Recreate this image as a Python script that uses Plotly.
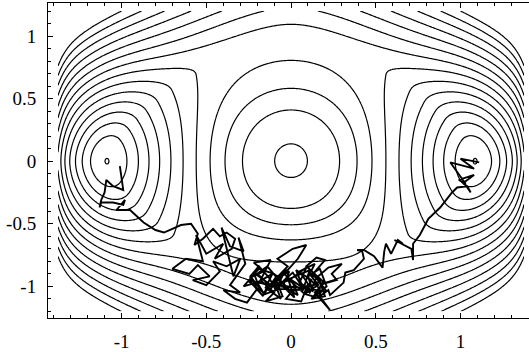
import numpy as np
import plotly.graph_objects as go

# ---- potential field (drawn as contour lines); s,t are pixel-isotropic coordinates ----
SX, SY = 169.5 / 185.0, 129.0 / 185.0
BASE = 8.5
HILL_H, HILL_R, HILL_P = 3.62, 0.43, 2.5
WELL_H, WELL_A, WELL_G, WELL_Q, WELL_S = 7.55, 0.12, 0.5, 0.85, 1.0
CHAN_H, CHAN_T, CHAN_AT, CHAN_AS = 1.0, -0.56, 0.05, 0.25
RING_TS, RING_M, RING_K, RING_W, RING_ES, RING_ET = 0.71, 1.4, 4.0, 0.25, 0.15, 0.06
SIDE_A, SIDE_K, EDGE_S = 1.7, 20.0, 1.26
X_MIN, X_MAX, Y_MIN, Y_MAX = -1.375, 1.375, -1.2, 1.2
LEVEL_START, LEVEL_END, LEVEL_STEP = 1.0, 15.0, 1.0

# ---- trajectory ----
traj_x = [-1.01, -0.99, -1.05, -1.09, -1.10, -1.12, -1.13, -1.12, -1.05, -0.99, -0.98, -1.03, -0.95,
          -0.87, -0.80, -0.75, -0.70, -0.65, -0.59, -0.55, -0.57, -0.52, -0.46, -0.42, -0.38, -0.33,
          -0.35, -0.45, -0.40, -0.50, -0.56, -0.52, -0.62, -0.70, -0.60, -0.55, -0.48, -0.58, -0.50,
          -0.42, -0.46, -0.38, -0.30, -0.34, -0.41, -0.36, -0.28, -0.31, -0.27, -0.36, -0.30, -0.40,
          -0.33, -0.26, -0.20, -0.24, -0.16, -0.22, -0.12, -0.18, -0.10, -0.15, -0.05, -0.09, -0.02,
          -0.08, 0.01, 0.09, 0.04, -0.04, 0.03, -0.03, 0.06, 0.10, 0.05, 0.14, 0.10, 0.17, 0.12, 0.20,
          0.16, 0.22, 0.30, 0.24, 0.27, 0.19, 0.14, 0.23, 0.18, 0.08, -0.01, -0.12, -0.20, -0.14, -0.06,
          0.02, 0.11, 0.07, -0.07, -0.17, -0.23, -0.28, -0.19, -0.10, 0.00, 0.12, 0.18, 0.09, 0.15,
          0.20, 0.13, 0.21, 0.23, 0.31, 0.32, 0.37, 0.43, 0.42, 0.39, 0.43, 0.49, 0.54, 0.55, 0.56,
          0.59, 0.63, 0.66, 0.61, 0.71, 0.72, 0.72, 0.76, 0.81, 0.88, 0.95, 0.98, 1.04, 1.06, 1.02,
          1.08, 0.99, 1.03, 0.94, 1.08, 1.00, 1.11]
traj_y = [-0.04, -0.23, -0.20, -0.15, -0.25, -0.31, -0.37, -0.33, -0.33, -0.35, -0.31, -0.39, -0.39,
          -0.49, -0.55, -0.57, -0.54, -0.51, -0.50, -0.58, -0.67, -0.62, -0.54, -0.60, -0.57, -0.62,
          -0.70, -0.78, -0.66, -0.74, -0.59, -0.80, -0.78, -0.86, -0.90, -0.83, -0.92, -0.95, -0.99,
          -0.88, -0.80, -0.84, -0.78, -0.92, -0.53, -0.68, -0.72, -0.61, -0.82, -0.99, -1.05, -1.03,
          -1.10, -1.13, -1.02, -0.93, -0.88, -0.81, -0.79, -0.95, -1.05, -1.12, -1.08, -0.94, -0.84,
          -0.78, -0.70, -0.67, -0.78, -0.90, -1.00, -1.10, -1.12, -0.98, -0.88, -0.82, -0.93, -1.02,
          -1.10, -1.08, -0.92, -0.85, -0.82, -0.90, -0.95, -0.98, -1.05, -1.19, -1.10, -1.06, -0.95,
          -1.00, -0.90, -0.84, -0.97, -0.92, -0.87, -1.03, -1.02, -1.07, -0.98, -1.00, -0.86, -0.90,
          -1.04, -1.00, -0.95, -0.84, -0.77, -0.79, -0.90, -1.04, -1.07, -0.97, -0.89, -0.87, -0.78,
          -0.72, -0.71, -0.71, -0.76, -0.85, -0.72, -0.66, -0.74, -0.63, -0.66, -0.63, -0.70, -0.79,
          -0.66, -0.59, -0.46, -0.37, -0.25, -0.21, -0.20, -0.25, -0.17, -0.11, -0.15, -0.18, -0.01,
          -0.06, 0.02, -0.01]
# extra wandering inside the dense lower cluster (inserted before the exit towards the right well)
core_x = [-0.25, -0.18, -0.22, -0.13, -0.17, -0.08, -0.12, -0.03, -0.07, 0.02, -0.02, 0.07, 0.03,
          0.12, 0.08, 0.16, 0.11, 0.19, 0.14, 0.21, 0.17, 0.10, 0.13, 0.05, 0.09, 0.00, 0.04, -0.05,
          -0.01, -0.10, -0.06, -0.15, -0.11, -0.20, -0.16, -0.24, -0.19, -0.13, -0.09, -0.04, 0.01,
          0.06, 0.11, 0.15, 0.19, 0.16, 0.22]
core_y = [-0.96, -1.04, -0.89, -0.98, -1.08, -0.91, -1.02, -0.86, -0.97, -1.09, -0.93, -1.01, -0.87,
          -0.95, -1.06, -0.99, -0.90, -0.96, -1.08, -1.00, -0.86, -0.92, -1.04, -0.97, -0.85, -0.94,
          -1.07, -1.00, -0.88, -0.96, -1.10, -1.01, -0.90, -0.97, -1.06, -0.92, -0.84, -0.93, -1.03,
          -0.95, -0.89, -0.99, -1.05, -0.93, -1.01, -1.09, -1.03]
CORE_AT = 112
path_x = traj_x[:CORE_AT] + core_x + traj_x[CORE_AT:]
path_y = traj_y[:CORE_AT] + core_y + traj_y[CORE_AT:]

# ---- axis ticks ----
tick_vals = [-1, -0.5, 0, 0.5, 1]
tick_text = ["-1", "-0.5", "0", "0.5", "1"]

gx = np.linspace(X_MIN, X_MAX, 421)
gy = np.linspace(Y_MIN, Y_MAX, 361)
XX, YY = np.meshgrid(gx, gy)
S, T = XX * SX, YY * SY
R = np.sqrt(S**2 + T**2)


def well(s0):
    d2 = ((S - s0)**2 + WELL_G * T**2) / WELL_A
    return WELL_H * np.exp(-np.power(d2, WELL_Q))


# smoothed super-ellipse norm for the outer confining wall
AS = (S**2 + RING_ES**2)**(RING_M / 2.0)
AT = ((T / RING_TS)**2 + RING_ET**2)**(RING_M / 2.0)
RHO = (AS + AT)**(1.0 / RING_M)
Q = RHO**2 - 1.0
ring = np.where(Q > 0, RING_K * RING_W * (np.sqrt(1.0 + (Q / RING_W)**2) - 1.0), 0.0)

V = (BASE
     + HILL_H * np.exp(-(R / HILL_R)**HILL_P)
     - well(WELL_S) - well(-WELL_S)
     - CHAN_H * np.exp(-(T - CHAN_T)**2 / CHAN_AT - S**2 / CHAN_AS)
     + ring
     + SIDE_A * np.exp(SIDE_K * (np.abs(S) - EDGE_S)))

fig = go.Figure()
fig.add_trace(go.Contour(
    x=gx, y=gy, z=V,
    contours=dict(coloring="lines", start=LEVEL_START, end=LEVEL_END, size=LEVEL_STEP, showlabels=False),
    colorscale=[[0, "black"], [1, "black"]], showscale=False, line=dict(width=1.2),
    hoverinfo="skip"))
fig.add_trace(go.Scatter(x=path_x, y=path_y, mode="lines",
                         line=dict(color="black", width=1.9), hoverinfo="skip"))

FONT = dict(family="Liberation Serif, Times New Roman, serif", size=19, color="black")
axis_common = dict(showgrid=False, zeroline=False, showline=True, linecolor="black", linewidth=1,
                   ticks="inside", ticklen=5, tickcolor="black", tickwidth=1,
                   tickmode="array", tickvals=tick_vals, ticktext=tick_text, tickfont=FONT)
fig.update_layout(
    width=529, height=352, margin=dict(l=48, r=0, t=3, b=24),
    font=FONT,
    paper_bgcolor="white", plot_bgcolor="white", showlegend=False,
    xaxis=dict(range=[-1.434, 1.404], mirror="ticks", ticklabelstandoff=6,
               minor=dict(dtick=0.1, ticks="inside", ticklen=3, tickcolor="black"), **axis_common),
    yaxis=dict(range=[-1.253, 1.264], mirror=False, ticklabelstandoff=7,
               minor=dict(dtick=0.1, ticks="inside", ticklen=3, tickcolor="black"), **axis_common),
)
fig.write_html("out.html")
